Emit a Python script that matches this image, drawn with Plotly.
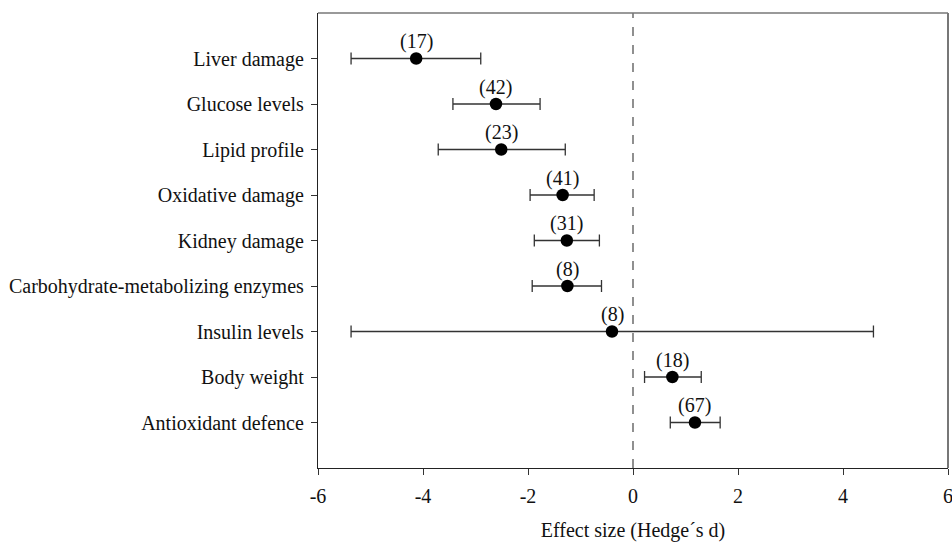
import plotly.graph_objects as go

categories = ["Liver damage", "Glucose levels", "Lipid profile", "Oxidative damage",
              "Kidney damage", "Carbohydrate-metabolizing enzymes", "Insulin levels",
              "Body weight", "Antioxidant defence"]
effect = [-4.13, -2.61, -2.51, -1.34, -1.26, -1.25, -0.40, 0.75, 1.18]
ci_low = [-5.37, -3.43, -3.71, -1.96, -1.88, -1.92, -5.37, 0.22, 0.71]
ci_high = [-2.90, -1.77, -1.29, -0.74, -0.64, -0.60, 4.58, 1.30, 1.66]
n_studies = ["(17)", "(42)", "(23)", "(41)", "(31)", "(8)", "(8)", "(18)", "(67)"]
x_ticks = [-6, -4, -2, 0, 2, 4, 6]

ypos = list(range(len(categories), 0, -1))
err_plus = [h - e for h, e in zip(ci_high, effect)]
err_minus = [e - l for e, l in zip(effect, ci_low)]

font = "Liberation Serif, Times New Roman, serif"
fs = 20

fig = go.Figure()
fig.add_trace(go.Scatter(
    x=effect, y=ypos, mode="markers",
    marker=dict(size=12.5, color="black"),
    error_x=dict(type="data", symmetric=False, array=err_plus, arrayminus=err_minus,
                 color="#333", thickness=1.3, width=6),
    showlegend=False, cliponaxis=False,
))

for xv, yv, t in zip(effect, ypos, n_studies):
    fig.add_annotation(x=xv, y=yv, text=t, showarrow=False, yshift=17,
                       font=dict(family=font, size=fs, color="#111"))

fig.add_shape(type="line", x0=0, x1=0, y0=0, y1=10, xref="x", yref="y",
              line=dict(color="#555", width=1.3, dash="dash"), layer="below")
# top and right frame lines (lighter grey, as in the original)
fig.add_shape(type="line", x0=0, x1=1, y0=1, y1=1, xref="paper", yref="paper",
              line=dict(color="#777", width=1.5))
fig.add_shape(type="line", x0=1, x1=1, y0=0, y1=1, xref="paper", yref="paper",
              line=dict(color="#777", width=2))

fig.update_layout(
    width=952, height=544,
    margin=dict(l=318, r=4, t=13, b=76, autoexpand=False),
    plot_bgcolor="white", paper_bgcolor="white",
    font=dict(family=font, size=fs, color="#111"),
    xaxis=dict(range=[-6, 6], tickvals=x_ticks,
               ticktext=[str(v) for v in x_ticks], ticklabeloverflow="allow",
               ticklabelstandoff=4,
               showgrid=False, zeroline=False, showline=True, linecolor="#222",
               linewidth=1.3, mirror=False, ticks="outside", ticklen=6, tickcolor="#333",
               title=dict(text="Effect size (Hedge´s d)", standoff=16,
                          font=dict(family=font, size=fs))),
    yaxis=dict(range=[0, 10], tickvals=ypos, ticktext=categories,
               ticklabelstandoff=3,
               showgrid=False, zeroline=False, showline=True, linecolor="#222",
               linewidth=1.3, mirror=False, ticks="outside", ticklen=6, tickcolor="#333"),
)

# remove the default page margin so the 952x544 figure fills the window exactly
fig.write_html(
    "out.html",
    config={"displayModeBar": False},
    post_script="document.body.style.margin='0';document.documentElement.style.overflow='hidden';",
)
